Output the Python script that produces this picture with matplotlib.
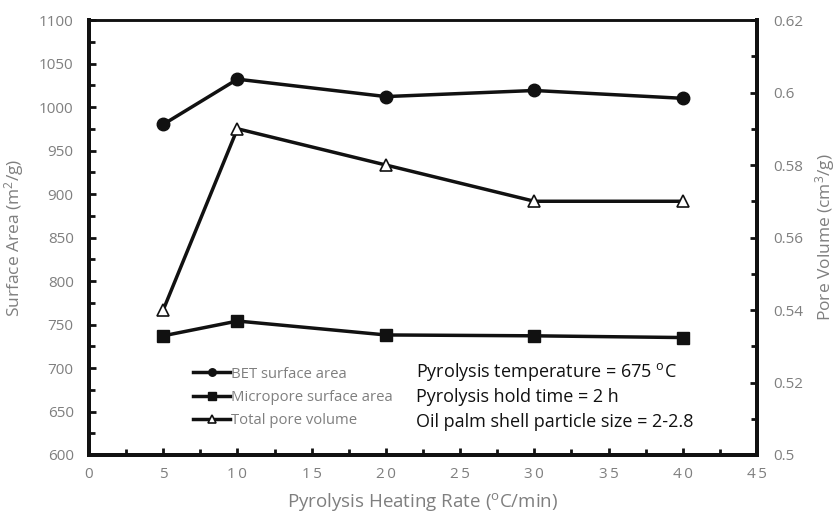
import matplotlib.pyplot as plt
from matplotlib.ticker import MultipleLocator

plt.rcParams['font.family'] = ['Open Sans', 'DejaVu Sans']

# Heating rate (°C/min) and measured properties
heating_rate = [5, 10, 20, 30, 40]
bet_area = [980, 1032, 1012, 1019, 1010]
micropore_area = [737, 754, 738, 737, 735]
pore_volume = [0.54, 0.59, 0.58, 0.57, 0.57]

gray = '#7f7f7f'

fig = plt.figure(figsize=(8.37, 5.2), dpi=100)
ax = fig.add_axes([0.1063, 0.125, 0.7981, 0.8365])
ax2 = ax.twinx()

l1, = ax.plot(heating_rate, bet_area, color='#111111', lw=2.5, marker='o', ms=9,
              label='BET surface area')
l2, = ax.plot(heating_rate, micropore_area, color='#111111', lw=2.5, marker='s', ms=9,
              label='Micropore surface area')
l3, = ax2.plot(heating_rate, pore_volume, color='#111111', lw=2.5, marker='^', ms=9,
               mfc='white', mec='#111111', mew=1.2, label='Total pore volume')

ax.set_xlim(0, 45)
ax.set_ylim(600, 1100)
ax2.set_ylim(0.5, 0.62)

ax.xaxis.set_major_locator(MultipleLocator(5))
ax.xaxis.set_minor_locator(MultipleLocator(2.5))
ax.yaxis.set_major_locator(MultipleLocator(50))
ax.yaxis.set_minor_locator(MultipleLocator(25))
ax2.yaxis.set_major_locator(MultipleLocator(0.02))
ax2.yaxis.set_minor_locator(MultipleLocator(0.01))

ax2.set_yticks([0.5, 0.52, 0.54, 0.56, 0.58, 0.6, 0.62])
ax2.set_yticklabels(['0.5', '0.52', '0.54', '0.56', '0.58', '0.6', '0.62'])
ax.set_xticks(range(0, 50, 5))
ax.set_xticklabels(['\u2009'.join(str(v)) for v in range(0, 50, 5)])

for a in (ax, ax2):
    for side in ('left', 'right', 'bottom'):
        a.spines[side].set_linewidth(2.8)
        a.spines[side].set_color('#111111')
    a.spines['top'].set_linewidth(1.8)
    a.spines['top'].set_color('#111111')

ax.tick_params(axis='both', which='both', direction='in', colors='#111111',
               labelcolor=gray, labelsize=11, width=2)
ax.tick_params(axis='both', which='major', length=5)
ax.tick_params(axis='y', which='major', pad=11)
ax.tick_params(axis='x', which='major', pad=9)
ax.tick_params(axis='both', which='minor', length=4)
ax.tick_params(axis='y', which='both', right=False)
ax.tick_params(axis='x', which='both', top=False)
ax2.tick_params(axis='y', which='both', direction='in', colors='#111111',
                labelcolor=gray, labelsize=11, width=2, pad=12)
ax2.tick_params(axis='y', which='major', length=5)
ax2.tick_params(axis='y', which='minor', length=4)

ax.set_xlabel('Pyrolysis Heating Rate ($\\mathregular{^{o}}$C/min)', color=gray,
              fontsize=13.5, labelpad=6)
ax.set_ylabel('Surface Area (m$\\mathregular{^{2}}$/g)', color=gray, fontsize=12.5, labelpad=9)
ax2.set_ylabel('Pore Volume (cm$\\mathregular{^{3}}$/g)', color=gray, fontsize=12.5, labelpad=7)

leg = ax.legend(handles=[l1, l2, l3], loc='lower left', bbox_to_anchor=(0.145, 0.045),
                frameon=False, fontsize=10.7, handlelength=2.5, handletextpad=0.05,
                labelspacing=0.55, markerscale=0.6, labelcolor=gray, borderpad=0)

notes = ['Pyrolysis temperature = 675 $\\mathregular{^{o}}$C',
         'Pyrolysis hold time = 2 h',
         'Oil palm shell particle size = 2-2.8']
for i, t in enumerate(notes):
    ax.text(0.49, 0.191 - i * 0.0575, t, transform=ax.transAxes, fontsize=13,
            color='#111111', va='center')

fig.savefig('out.png', dpi=100)
